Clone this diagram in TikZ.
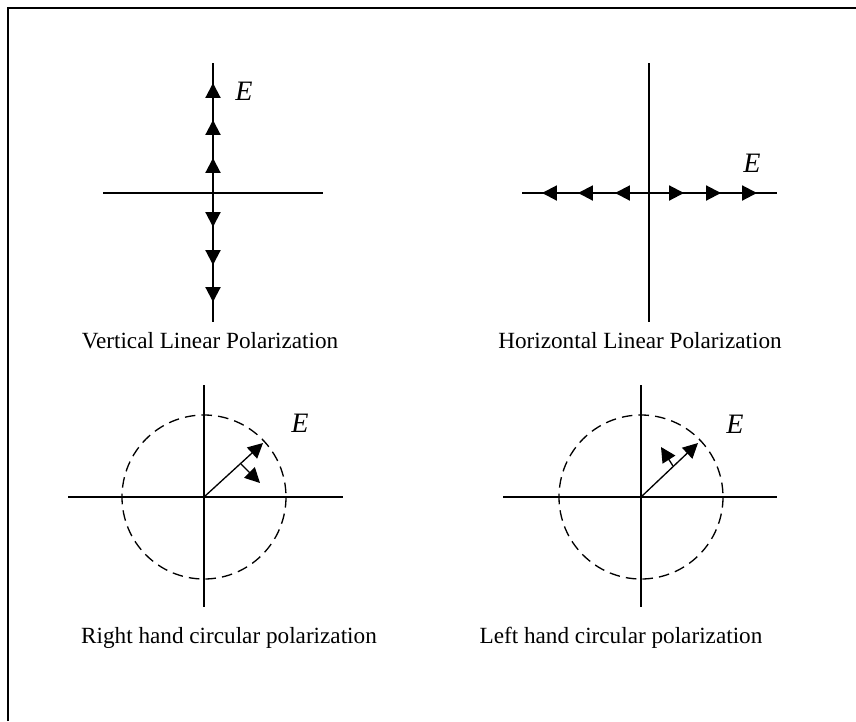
\documentclass[tikz,border=0pt]{standalone}
\usepackage{fontspec}
\setmainfont{Liberation Serif}
\usetikzlibrary{arrows.meta}

\begin{document}
\begin{tikzpicture}[x=0.02cm, y=-0.02cm, >={Triangle[length=8.5pt, width=8.5pt]},
		axis/.style={line width=0.7pt},
		field/.style={->, line width=1.2pt},
		rot/.style={->, line width=0.75pt},
		orbit/.style={dash pattern=on 6pt off 3.5pt, line width=0.75pt},
		elbl/.style={font=\fontsize{16}{19}\selectfont\itshape},
		polcap/.style={font=\fontsize{13.2}{16}\selectfont}]
				\useasboundingbox (0,0) rectangle (856,721);
				\def\rad{82}
				% frame
				\coordinate (Fbl) at (8,721);
				\coordinate (Ftl) at (8,8);
				\coordinate (Ftr) at (856,8);
				\draw[line width=0.8pt] (Fbl) -- (Ftl) -- (Ftr);
				% vertical linear
				\coordinate (O1)  at (213,193);
				\coordinate (O1w) at (103,193);
				\coordinate (O1e) at (323,193);
				\coordinate (O1n) at (213,63);
				\coordinate (O1s) at (213,322);
				\draw[axis] (O1w) -- (O1e);
				\draw[axis] (O1n) -- (O1s);
				\foreach \d in {35,73,110}{
					\draw[field] (O1) -- ++(0,-\d);
					\draw[field] (O1) -- ++(0,\d-1);
				}
				\node[elbl] (E1) at (244,91) {E};
				\node[polcap] (cap1) at (210,341) {Vertical Linear Polarization};
				% horizontal linear
				\coordinate (O2)  at (649,193);
				\coordinate (O2w) at (522,193);
				\coordinate (O2e) at (777,193);
				\coordinate (O2n) at (649,63);
				\coordinate (O2s) at (649,322);
				\draw[axis] (O2w) -- (O2e);
				\draw[axis] (O2n) -- (O2s);
				\foreach \d in {34,71,107}{
					\draw[field] (O2) -- ++(-\d,0);
					\draw[field] (O2) -- ++(\d+1,0);
				}
				\node[elbl] (E2) at (752,163) {E};
				\node[polcap] (cap2) at (640,341) {Horizontal Linear Polarization};
				% right hand circular
				\coordinate (O3)  at (204,497);
				\coordinate (O3w) at (68,497);
				\coordinate (O3e) at (343,497);
				\coordinate (O3n) at (204,385);
				\coordinate (O3s) at (204,607);
				\coordinate (V3)  at (263,443);
				\coordinate (R3a) at (241,464);
				\coordinate (R3b) at (260,483);
				\draw[axis] (O3w) -- (O3e);
				\draw[axis] (O3n) -- (O3s);
				\draw[orbit] (O3) circle[radius=\rad];
				\draw[rot] (O3) -- (V3);
				\draw[rot] (R3a) -- (R3b);
				\node[elbl] (E3) at (300,423) {E};
				\node[polcap] (cap3) at (229,638) {Right hand circular polarization};
				% left hand circular
				\coordinate (O4)  at (641,497);
				\coordinate (O4w) at (503,497);
				\coordinate (O4e) at (777,497);
				\coordinate (O4n) at (641,385);
				\coordinate (O4s) at (641,607);
				\coordinate (V4)  at (698,443);
				\coordinate (R4a) at (673,466);
				\coordinate (R4b) at (661,447);
				\draw[axis] (O4w) -- (O4e);
				\draw[axis] (O4n) -- (O4s);
				\draw[orbit] (O4) circle[radius=\rad];
				\draw[rot] (O4) -- (V4);
				\draw[rot] (R4a) -- (R4b);
				\node[elbl] (E4) at (735,424) {E};
				\node[polcap] (cap4) at (621,638) {Left hand circular polarization};
\end{tikzpicture}
\end{document}
